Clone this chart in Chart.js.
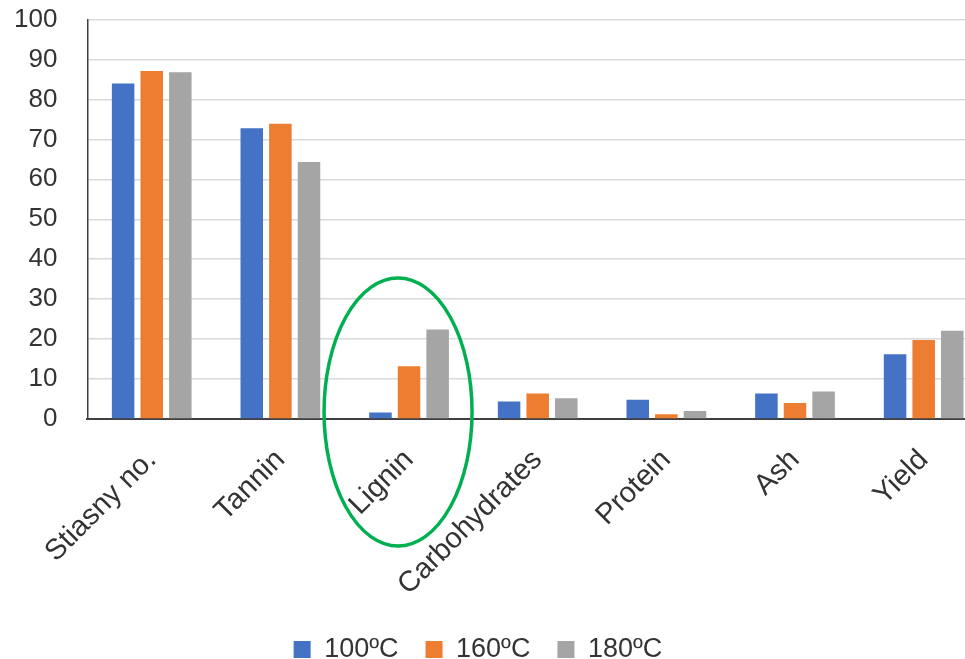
<!DOCTYPE html>
<html>
<head>
<meta charset="utf-8">
<script src="https://cdn.jsdelivr.net/npm/chart.js@4/dist/chart.umd.min.js"></script>
<style>
  html, body { margin: 0; padding: 0; background: #ffffff; overflow: hidden; }
  body { width: 965px; height: 659px; position: relative; }
  #chart { position: absolute; left: -40px; top: 0; }
</style>
</head>
<body>
<canvas id="chart" width="1028" height="659"></canvas>
<script>
// Composition of the extracts at three extraction temperatures
const categories = ['Stiasny no.', 'Tannin', 'Lignin', 'Carbohydrates', 'Protein', 'Ash', 'Yield'];
const seriesNames = ['100ºC', '160ºC', '180ºC'];
const values100 = [84.0, 72.8, 1.6, 4.4, 4.8, 6.4, 16.2];
const values160 = [87.1, 73.9, 13.2, 6.4, 1.2, 4.0, 19.8];
const values180 = [86.8, 64.3, 22.4, 5.2, 2.0, 6.9, 22.1];
const yMin = 0, yMax = 100, yStep = 10;
const highlighted = 'Lignin';

const colors = ['#4472c4', '#ed7d31', '#a5a5a5'];
const textColor = '#333333';
const fontFamily = "'Liberation Sans', Arial, sans-serif";

// Green ring drawn around the highlighted category
const highlightRing = {
  id: 'highlightRing',
  afterDraw(chart) {
    const x = chart.scales.x, y = chart.scales.y;
    const idx = categories.indexOf(highlighted);
    const cx = x.getPixelForValue(idx) - 11;
    const cy = y.getPixelForValue(0) - 7;
    const ctx = chart.ctx;
    ctx.save();
    ctx.beginPath();
    ctx.ellipse(cx, cy, 74, 134, 0, 0, Math.PI * 2);
    ctx.strokeStyle = '#00b050';
    ctx.lineWidth = 3.5;
    ctx.stroke();
    ctx.restore();
  }
};

new Chart(document.getElementById('chart'), {
  type: 'bar',
  data: {
    labels: categories,
    datasets: [
      { label: seriesNames[0], data: values100, backgroundColor: colors[0] },
      { label: seriesNames[1], data: values160, backgroundColor: colors[1] },
      { label: seriesNames[2], data: values180, backgroundColor: colors[2] }
    ]
  },
  options: {
    responsive: false,
    devicePixelRatio: 1,
    animation: false,
    layout: { padding: { left: 8, right: 0, top: 19.5, bottom: -14 } },
    datasets: {
      bar: { categoryPercentage: 0.667, barPercentage: 0.787 }
    },
    plugins: {
      tooltip: { enabled: false },
      legend: {
        position: 'bottom',
        labels: {
          color: textColor,
          font: { family: fontFamily, size: 27 },
          boxWidth: 17,
          boxHeight: 17,
          padding: 27
        }
      }
    },
    scales: {
      x: {
        grid: { display: false, drawTicks: false },
        border: { display: true, color: '#404040', width: 2 },
        ticks: {
          color: textColor,
          font: { family: fontFamily, size: 29 },
          minRotation: 45,
          maxRotation: 45,
          autoSkip: false,
          padding: 24
        },
        afterFit(scale) { scale.height = 190; }
      },
      y: {
        min: yMin,
        max: yMax,
        grid: { color: '#d9d9d9', lineWidth: 1.5, drawTicks: true, tickLength: 27, tickColor: 'rgba(0,0,0,0)' },
        border: { display: true, color: '#404040', width: 1.5 },
        ticks: {
          stepSize: yStep,
          color: textColor,
          font: { family: fontFamily, size: 26 },
          padding: 3
        },
        afterFit(scale) { scale.width = 119.4; }
      }
    }
  },
  plugins: [highlightRing]
});
</script>
</body>
</html>
